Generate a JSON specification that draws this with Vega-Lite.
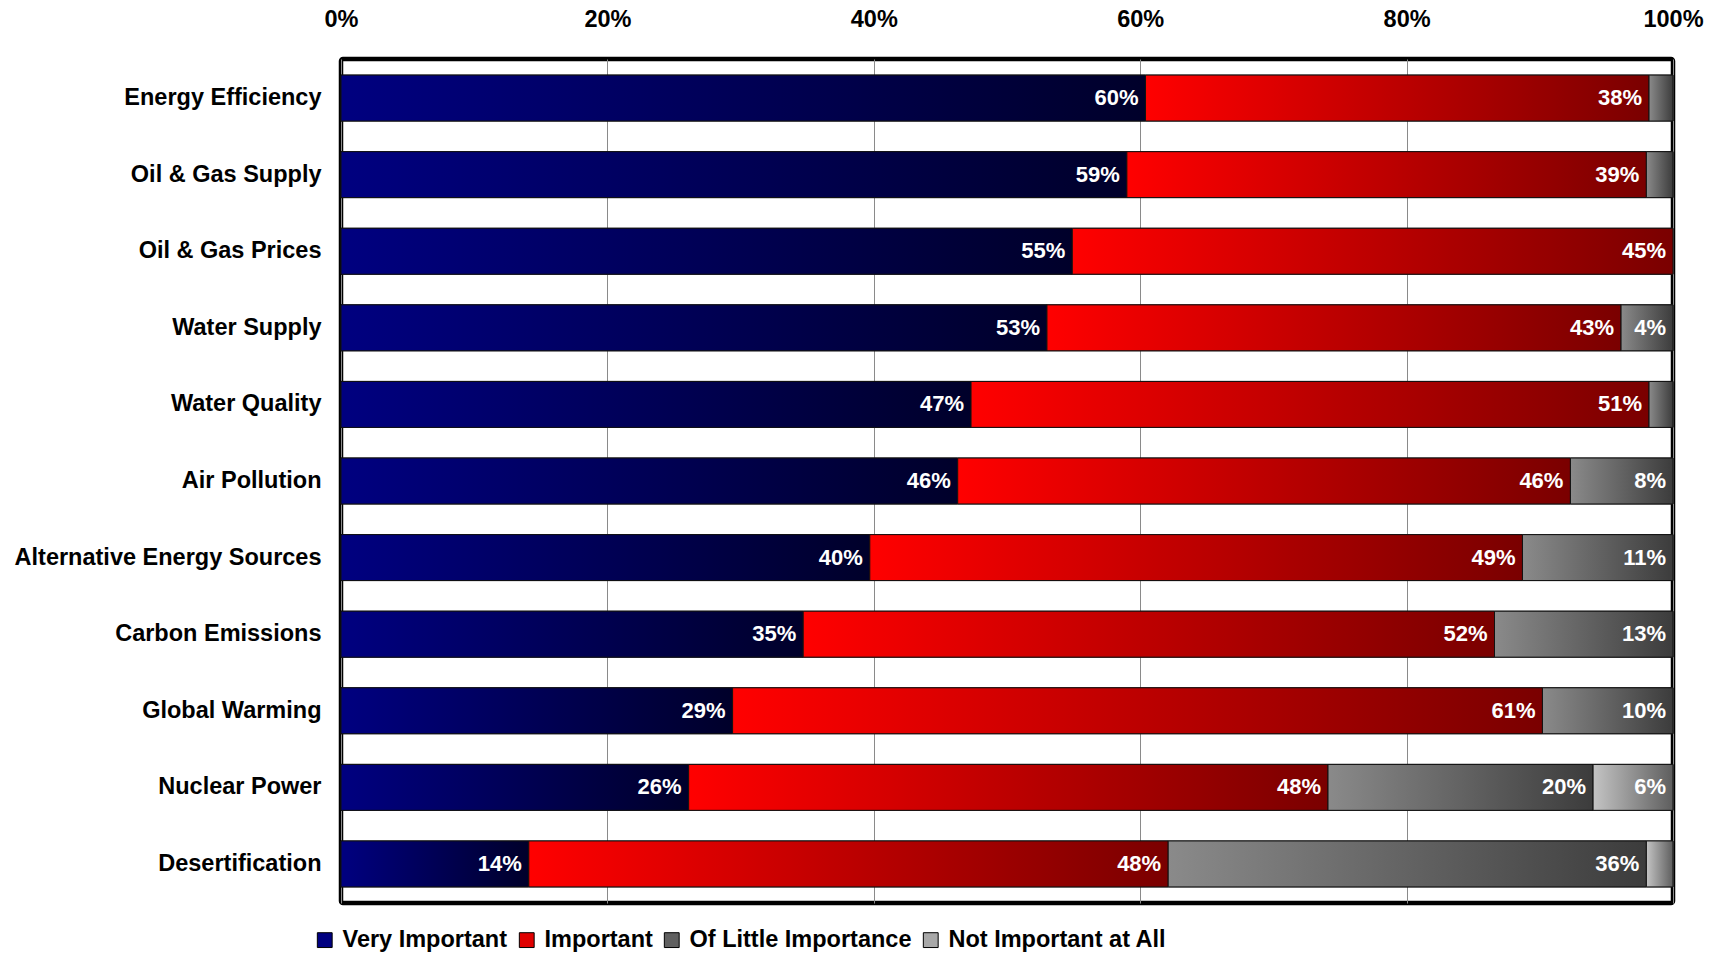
{
  "$schema": "https://vega.github.io/schema/vega-lite/v6.json",
  "autosize": {"type": "none"},
  "padding": {"left": 341, "top": 59, "right": 50, "bottom": 51},
  "width": 1332,
  "height": 844,
  "background": "white",
  "config": {
    "font": "Liberation Sans",
    "view": {"stroke": "#000000", "strokeWidth": 4.5, "cornerRadius": 2}
  },
  "data": {
    "values": [
      {"topic": "Energy Efficiency", "level": "Very Important", "value": 0.604},
      {"topic": "Energy Efficiency", "level": "Important", "value": 0.378},
      {"topic": "Energy Efficiency", "level": "Of Little Importance", "value": 0.018},
      {"topic": "Oil & Gas Supply", "level": "Very Important", "value": 0.590},
      {"topic": "Oil & Gas Supply", "level": "Important", "value": 0.390},
      {"topic": "Oil & Gas Supply", "level": "Of Little Importance", "value": 0.020},
      {"topic": "Oil & Gas Prices", "level": "Very Important", "value": 0.549},
      {"topic": "Oil & Gas Prices", "level": "Important", "value": 0.451},
      {"topic": "Water Supply", "level": "Very Important", "value": 0.530},
      {"topic": "Water Supply", "level": "Important", "value": 0.431},
      {"topic": "Water Supply", "level": "Of Little Importance", "value": 0.039},
      {"topic": "Water Quality", "level": "Very Important", "value": 0.473},
      {"topic": "Water Quality", "level": "Important", "value": 0.509},
      {"topic": "Water Quality", "level": "Of Little Importance", "value": 0.018},
      {"topic": "Air Pollution", "level": "Very Important", "value": 0.463},
      {"topic": "Air Pollution", "level": "Important", "value": 0.460},
      {"topic": "Air Pollution", "level": "Of Little Importance", "value": 0.077},
      {"topic": "Alternative Energy Sources", "level": "Very Important", "value": 0.397},
      {"topic": "Alternative Energy Sources", "level": "Important", "value": 0.490},
      {"topic": "Alternative Energy Sources", "level": "Of Little Importance", "value": 0.113},
      {"topic": "Carbon Emissions", "level": "Very Important", "value": 0.347},
      {"topic": "Carbon Emissions", "level": "Important", "value": 0.519},
      {"topic": "Carbon Emissions", "level": "Of Little Importance", "value": 0.134},
      {"topic": "Global Warming", "level": "Very Important", "value": 0.294},
      {"topic": "Global Warming", "level": "Important", "value": 0.608},
      {"topic": "Global Warming", "level": "Of Little Importance", "value": 0.098},
      {"topic": "Nuclear Power", "level": "Very Important", "value": 0.261},
      {"topic": "Nuclear Power", "level": "Important", "value": 0.480},
      {"topic": "Nuclear Power", "level": "Of Little Importance", "value": 0.199},
      {"topic": "Nuclear Power", "level": "Not Important at All", "value": 0.060},
      {"topic": "Desertification", "level": "Very Important", "value": 0.141},
      {"topic": "Desertification", "level": "Important", "value": 0.480},
      {"topic": "Desertification", "level": "Of Little Importance", "value": 0.359},
      {"topic": "Desertification", "level": "Not Important at All", "value": 0.020}
    ]
  },
  "transform": [
    {"stack": "value", "groupby": ["topic"], "as": ["v0", "v1"]}
  ],
  "encoding": {
    "y": {
      "field": "topic", "type": "nominal", "sort": null,
      "scale": {"paddingInner": 0.4, "paddingOuter": 0.21},
      "axis": {
        "title": null, "domain": false, "ticks": false, "tickSize": 0,
        "labelPadding": 20, "labelFontSize": 23.5, "labelFontWeight": "bold",
        "labelColor": "#000000", "labelLimit": 400
      }
    }
  },
  "layer": [
    {
      "mark": {"type": "bar", "stroke": "#111111", "strokeWidth": 1},
      "encoding": {
        "x": {
          "field": "v0", "type": "quantitative",
          "scale": {"domain": [0, 1], "nice": false, "zero": true},
          "axis": {
            "orient": "top", "title": null, "values": [0, 0.2, 0.4, 0.6, 0.8, 1],
            "format": ".0%", "grid": true, "gridColor": "#8a8a8a", "gridWidth": 1,
            "domain": false, "ticks": false, "tickSize": 0, "labelPadding": 28,
            "labelFlush": false, "labelFontSize": 23.5, "labelFontWeight": "bold",
            "labelColor": "#000000"
          }
        },
        "x2": {"field": "v1"},
        "color": {
          "field": "level", "type": "nominal",
          "scale": {
            "domain": ["Very Important", "Important", "Of Little Importance", "Not Important at All"],
            "range": ["#000080", "#e00000", "#606060", "#a8a8a8"]
          },
          "legend": {
            "orient": "none", "legendX": -28, "legendY": 869, "direction": "horizontal",
            "title": null, "symbolType": "square", "symbolSize": 220,
            "symbolStrokeColor": "#000000", "symbolStrokeWidth": 1, "symbolOpacity": 1,
            "labelFontSize": 23.5, "labelFontWeight": "bold", "labelColor": "#000000",
            "labelOffset": 6, "columnPadding": 7, "labelLimit": 400
          }
        }
      }
    },
    {
      "transform": [{"filter": "datum.level === 'Very Important'"}],
      "mark": {
        "type": "bar", "stroke": "#111111", "strokeWidth": 1,
        "fill": {"gradient": "linear", "x1": 0, "y1": 0, "x2": 1, "y2": 0,
          "stops": [{"offset": 0, "color": "#000080"}, {"offset": 1, "color": "#00002a"}]}
      },
      "encoding": {"x": {"field": "v0", "type": "quantitative"}, "x2": {"field": "v1"}}
    },
    {
      "transform": [{"filter": "datum.level === 'Important'"}],
      "mark": {
        "type": "bar", "stroke": "#111111", "strokeWidth": 1,
        "fill": {"gradient": "linear", "x1": 0, "y1": 0, "x2": 1, "y2": 0,
          "stops": [{"offset": 0, "color": "#ff0000"}, {"offset": 1, "color": "#7a0000"}]}
      },
      "encoding": {"x": {"field": "v0", "type": "quantitative"}, "x2": {"field": "v1"}}
    },
    {
      "transform": [{"filter": "datum.level === 'Of Little Importance'"}],
      "mark": {
        "type": "bar", "stroke": "#111111", "strokeWidth": 1,
        "fill": {"gradient": "linear", "x1": 0, "y1": 0, "x2": 1, "y2": 0,
          "stops": [{"offset": 0, "color": "#8a8a8a"}, {"offset": 1, "color": "#3c3c3c"}]}
      },
      "encoding": {"x": {"field": "v0", "type": "quantitative"}, "x2": {"field": "v1"}}
    },
    {
      "transform": [{"filter": "datum.level === 'Not Important at All'"}],
      "mark": {
        "type": "bar", "stroke": "#111111", "strokeWidth": 1,
        "fill": {"gradient": "linear", "x1": 0, "y1": 0, "x2": 1, "y2": 0,
          "stops": [{"offset": 0, "color": "#c4c4c4"}, {"offset": 1, "color": "#5e5e5e"}]}
      },
      "encoding": {"x": {"field": "v0", "type": "quantitative"}, "x2": {"field": "v1"}}
    },
    {
      "transform": [{"filter": "datum.value >= 0.03"}],
      "mark": {
        "type": "text", "align": "right", "baseline": "middle", "dx": -7,
        "color": "#ffffff", "fontWeight": "bold", "fontSize": 22
      },
      "encoding": {
        "x": {"field": "v1", "type": "quantitative"},
        "text": {"field": "value", "type": "quantitative", "format": ".0%"}
      }
    }
  ]
}
